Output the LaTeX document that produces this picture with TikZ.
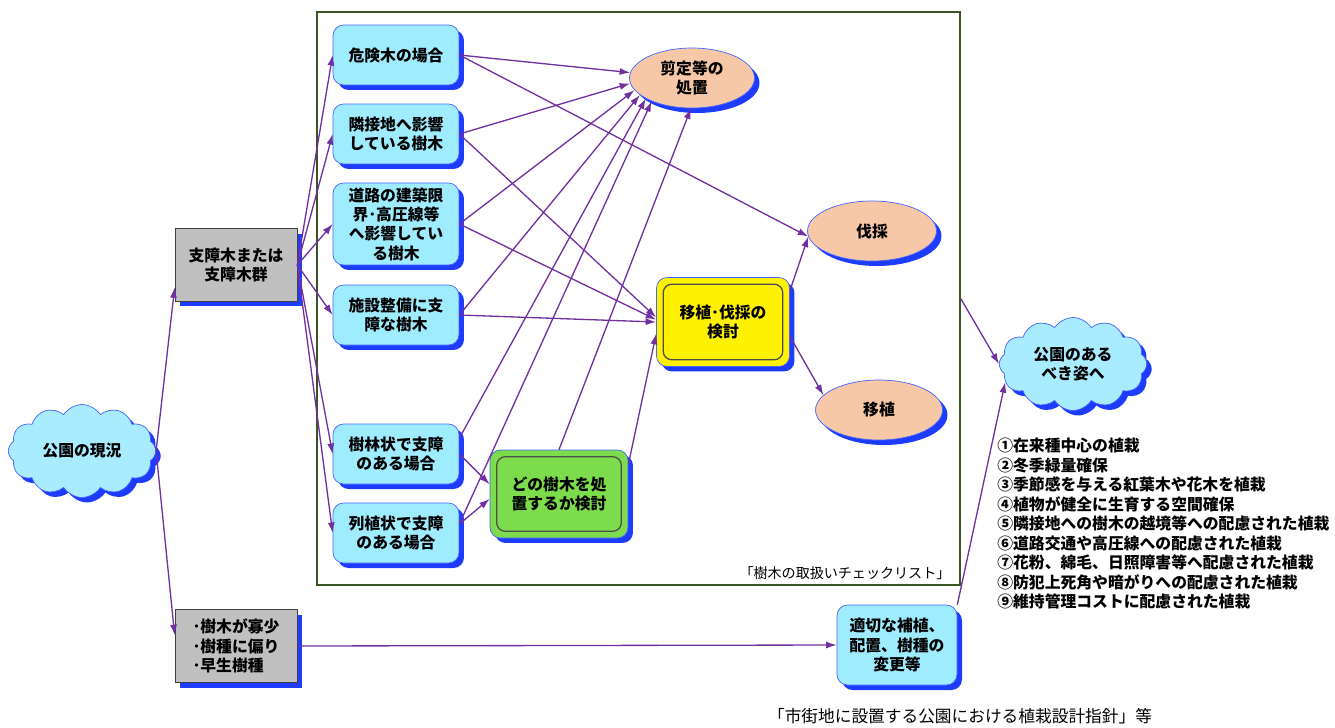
\documentclass[tikz,border=0pt]{standalone}
\usepackage{fontspec}
\setmainfont{Noto Sans CJK JP}
\usetikzlibrary{shapes.symbols, shapes.geometric, shadows, arrows.meta, calc}
\definecolor{LinePurple}{RGB}{112, 48, 160}
\definecolor{ShadowBlue}{RGB}{30, 60, 255}
\definecolor{EdgeBlue}{RGB}{70, 100, 255}
\definecolor{BoxCyan}{RGB}{160, 236, 255}
\definecolor{CloudCyan}{RGB}{170, 236, 255}
\definecolor{BoxGray}{RGB}{192, 192, 192}
\definecolor{EllPeach}{RGB}{246, 200, 168}
\definecolor{BoxGreen}{RGB}{125, 220, 75}
\definecolor{FrameGreen}{RGB}{55, 86, 35}

\begin{document}
\begin{tikzpicture}[x=0.02cm, y=-0.02cm,
    font=\fontsize{9}{11}\selectfont\bfseries,
    blueshadow/.style={drop shadow={shadow xshift=0.1cm, shadow yshift=-0.1cm, fill=ShadowBlue, opacity=1}},
    graybox/.style={rectangle, draw=gray!50!black, fill=BoxGray, blueshadow, minimum width=2.44cm, minimum height=1.46cm, align=center, inner sep=2pt},
    casebox/.style={rectangle, rounded corners=6pt, draw=EdgeBlue, fill=BoxCyan, blueshadow, minimum width=2.52cm, minimum height=1.2cm, align=center, inner sep=2pt},
    result/.style={ellipse, draw=EdgeBlue, fill=EllPeach, blueshadow, minimum width=2.5cm, minimum height=1.2cm, align=center, inner sep=1pt},
    puff/.style={cloud, cloud puffs=12, cloud puff arc=115, aspect=1.6, draw=EdgeBlue, fill=CloudCyan, blueshadow, minimum width=2.95cm, minimum height=1.86cm, align=center, inner sep=1pt},
    checkbox/.style={rectangle, rounded corners=6pt, draw=EdgeBlue, blueshadow, align=center},
    innerline/.style={draw=gray!60!black, rounded corners=5pt, line width=0.7pt},
    flow/.style={draw=LinePurple, line width=0.75pt, -{Latex[length=6pt, width=4pt]}}
  ]
  \useasboundingbox (0,0) rectangle (1335,727);

  % Checklist frame
  \node[draw=FrameGreen, line width=0.9pt, minimum width=12.86cm, minimum height=11.46cm, inner sep=0pt] (chk) at (638.5,298.5) {};
  \node[anchor=south east, font=\fontsize{8}{10}\selectfont, inner sep=0pt] (chklbl) at ($(chk.south east)+(-10,-6)$) {「樹木の取扱いチェックリスト」};

  % Start and goal
  \node[puff] (cloudL) at (82,451) {公園の現況};
  \node[puff] (cloudR) at (1073,364) {公園のある\\べき姿へ};

  % Present state
  \node[graybox] (gray1) at (236,265) {支障木または\\支障木群};
  \node[graybox, align=left] (gray2) at (236,646) {･樹木が寡少\\･樹種に偏り\\･早生樹種};

  % Cases
  \node[casebox] (b1) at (396,55) {危険木の場合};
  \node[casebox] (b2) at (396,134) {隣接地へ影響\\している樹木};
  \node[casebox, minimum height=1.64cm] (b3) at (396,224) {道路の建築限\\界･高圧線等\\へ影響してい\\る樹木};
  \node[casebox] (b4) at (396,315) {施設整備に支\\障な樹木};
  \node[casebox] (b5) at (396,454) {樹林状で支障\\のある場合};
  \node[casebox] (b6) at (396,533) {列植状で支障\\のある場合};

  % Checks
  \node[checkbox, fill=BoxGreen, minimum width=2.76cm, minimum height=1.76cm] (grn) at (559,494) {どの樹木を処\\置するか検討};
  \draw[innerline] ($(grn.north west)+(7,7)$) rectangle ($(grn.south east)+(-7,-7)$);
  \node[checkbox, fill=yellow, minimum width=2.66cm, minimum height=1.78cm] (yel) at (723,322) {移植･伐採の\\検討};
  \draw[innerline] ($(yel.north west)+(7,7)$) rectangle ($(yel.south east)+(-7,-7)$);

  % Measures
  \node[result] (e1) at (692,78) {剪定等の\\処置};
  \node[result, minimum width=2.58cm] (e2) at (872,231) {伐採};
  \node[result, minimum width=2.54cm] (e3) at (879,410) {移植};
  \node[casebox, minimum width=2.4cm, minimum height=1.6cm] (tek) at (897,645) {適切な補植、\\配置、樹種の\\変更等};

  % Goal list
  \node[anchor=north west, align=left, inner sep=0pt, font=\fontsize{9}{11.1}\selectfont\bfseries] (goals) at (997,438)
    {①在来種中心の植栽\\②冬季緑量確保\\③季節感を与える紅葉木や花木を植栽\\④植物が健全に生育する空間確保\\⑤隣接地への樹木の越境等への配慮された植栽\\⑥道路交通や高圧線への配慮された植栽\\⑦花粉、綿毛、日照障害等へ配慮された植栽\\⑧防犯上死角や暗がりへの配慮された植栽\\⑨維持管理コストに配慮された植栽};
  \node[font=\fontsize{9.5}{11}\selectfont] (guide) at (960,716) {「市街地に設置する公園における植栽設計指針」等};

  % Left side
  \draw[flow] (cloudL.east) -- (gray1.200);
  \draw[flow] (cloudL.east) -- (gray2.170);
  \draw[flow] (gray1.east) -- (b1.west);
  \draw[flow] (gray1.east) -- (b2.west);
  \draw[flow] (gray1.east) -- (b3.west);
  \draw[flow] (gray1.east) -- (b4.west);
  \draw[flow] (gray1.east) -- (b5.west);
  \draw[flow] (gray1.east) -- (b6.west);
  \draw[flow] (gray2.east) -- (tek.west);

  % Cases to measures
  \draw[flow] (b1.east) -- (e1.175);
  \draw[flow] (b1.east) -- (e2.185);
  \draw[flow] (b2.east) -- (e1.185);
  \draw[flow] (b2.east) -- (yel.176);
  \draw[flow] (b3.east) -- (e1.192);
  \draw[flow] (b3.east) -- (yel.178);
  \draw[flow] (b4.east) -- (e1.198);
  \draw[flow] (b4.east) -- (yel.180);
  \draw[flow] (b5.14) -- (e1.204);
  \draw[flow] (b5.east) -- (grn.172);
  \draw[flow] (b6.8) -- (e1.210);
  \draw[flow] (b6.8) -- (grn.184);
  \draw[flow] (grn.north) -- (e1.268);
  \draw[flow] (grn.23) -- (yel.190);
  \draw[flow] (yel.25) -- (e2.185);
  \draw[flow] (yel.-12) -- (e3.165);

  % Right side
  \draw[flow] (chk.east) -- (cloudR.west);
  \draw[flow] (tek.north east) -- (cloudR.195);
\end{tikzpicture}
\end{document}
